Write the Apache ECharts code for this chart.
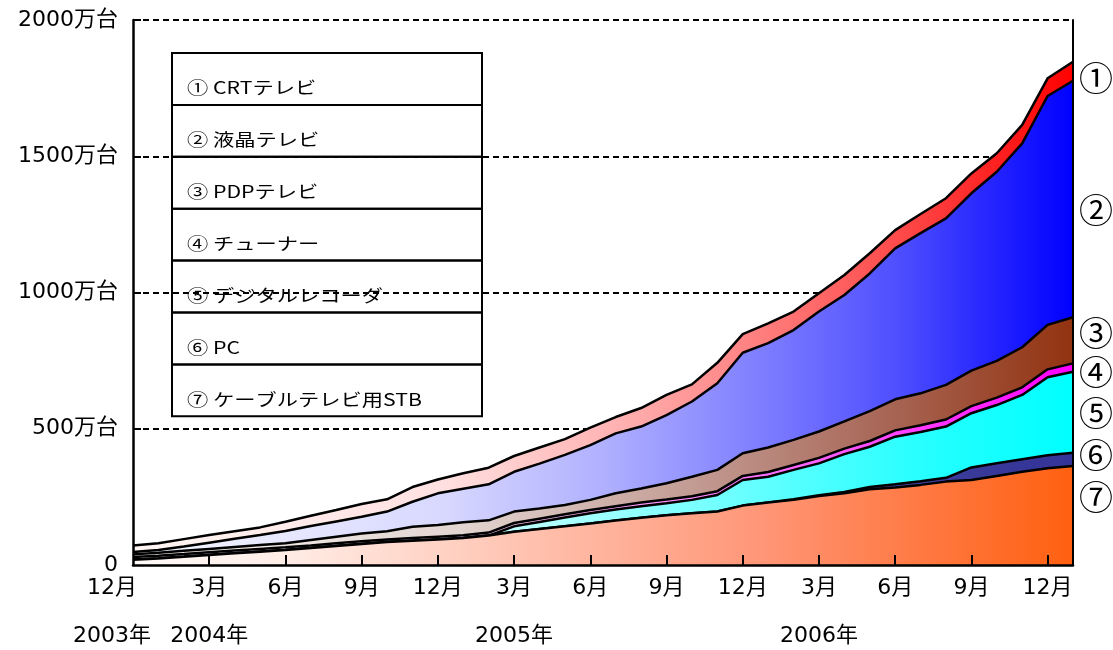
<!DOCTYPE html>
<html>
<head>
<meta charset="utf-8">
<script src="https://cdn.jsdelivr.net/npm/echarts@6/dist/echarts.min.js"></script>
<style>
  html, body { margin: 0; padding: 0; background: #fff; }
  #chart { width: 1113px; height: 650px; }
</style>
</head>
<body>
<div id="chart"></div>
<script>
// 月（2003年12月〜2007年1月）
const months = [
  '2003-12',
  '2004-01', '2004-02', '2004-03', '2004-04', '2004-05', '2004-06',
  '2004-07', '2004-08', '2004-09', '2004-10', '2004-11', '2004-12',
  '2005-01', '2005-02', '2005-03', '2005-04', '2005-05', '2005-06',
  '2005-07', '2005-08', '2005-09', '2005-10', '2005-11', '2005-12',
  '2006-01', '2006-02', '2006-03', '2006-04', '2006-05', '2006-06',
  '2006-07', '2006-08', '2006-09', '2006-10', '2006-11', '2006-12',
  '2007-01'
];

// 年ラベル（どの月の下に置くか）
const yearMonths = ['2003-12', '2004-03', '2005-03', '2006-03'];
const yearTexts = ['2003年', '2004年', '2005年', '2006年'];

// 各機器の累計出荷（万台）
const crt = [24, 25, 27, 28, 28, 28, 34, 38, 42, 47, 45, 54, 51, 57, 61, 58, 59, 58, 64, 60, 68, 74, 63, 75, 68, 73, 68, 67, 73, 74, 67, 70, 74, 73, 68, 68, 65, 70];
const lcd = [9, 10, 16, 23, 30, 37, 45, 51, 56, 61, 72, 92, 116, 123, 132, 146, 165, 184, 201, 220, 227, 250, 276, 318, 369, 383, 403, 440, 464, 505, 554, 588, 611, 651, 694, 748, 840, 868];
const pdp = [10, 11, 12, 12, 13, 14, 15, 20, 24, 29, 30, 41, 43, 48, 45, 42, 37, 34, 37, 47, 52, 60, 72, 78, 83, 90, 92, 97, 100, 110, 114, 117, 127, 130, 135, 147, 163, 169];
const tuner = [10, 10, 10, 10, 10, 10, 10, 10, 10, 10, 10, 10, 10, 10, 11, 12, 12, 12, 12, 12, 13, 13, 13, 14, 15, 17, 18, 20, 20, 21, 23, 25, 26, 26, 27, 28, 29, 31];
const recorder = [0, 0, 0, 0, 0, 0, 0, 0, 0, 0, 0, 0, 0, 0, 0, 20, 26, 32, 38, 41, 43, 44, 49, 61, 94, 95, 108, 117, 139, 148, 175, 181, 188, 199, 214, 236, 286, 297];
const pc = [0, 0, 0, 0, 0, 0, 0, 0, 0, 0, 0, 0, 0, 0, 0, 0, 0, 0, 0, 0, 0, 0, 0, 0, 0, 0, 2, 3, 5, 8, 12, 13, 14, 46, 46, 46, 48, 49];
const stb = [19, 24, 30, 37, 43, 49, 55, 62, 70, 77, 84, 89, 94, 99, 108, 122, 132, 142, 152, 163, 173, 183, 190, 196, 218, 229, 239, 253, 263, 278, 284, 294, 306, 312, 327, 342, 355, 363];

// 凡例の文字（上から）
const legendTexts = ['① CRTテレビ', '② 液晶テレビ', '③ PDPテレビ', '④ チューナー', '⑤ デジタルレコーダ', '⑥ PC', '⑦ ケーブルテレビ用STB'];
const markTexts = ['①', '②', '③', '④', '⑤', '⑥', '⑦'];

const chart = echarts.init(document.getElementById('chart'));

const numFont = '"DejaVu Sans", "Noto Sans CJK JP", sans-serif';
const jpFont = '"Noto Sans CJK JP", sans-serif';

function grad(stops) {
  return {
    type: 'linear', x: 0, y: 0, x2: 1, y2: 0,
    colorStops: stops.map(s => ({ offset: s[0], color: s[1] }))
  };
}

// 軸ラベル（最初のラベルだけ少し左に寄せる）
const labelRich = {
  t: { fontFamily: numFont, fontSize: 22, color: '#000' },
  f: { width: 42, fontSize: 22 }
};
function lab(s, first) {
  return '{t|' + s + '}' + (first ? '{f| }' : '');
}

// 年ラベル用の軸（最初の年だけ別の軸にして重なり判定を避ける）
function yearAxis(pick) {
  return {
    type: 'category',
    data: months,
    boundaryGap: false,
    position: 'bottom',
    offset: 48,
    axisLine: { show: false },
    axisTick: { show: false },
    splitLine: { show: false },
    axisLabel: {
      interval: (i) => pick(i) && yearMonths.indexOf(months[i]) >= 0,
      showMinLabel: true,
      hideOverlap: false,
      margin: 12,
      formatter: (v, i) => lab(yearTexts[yearMonths.indexOf(v)], i === 0),
      rich: labelRich
    }
  };
}

// 下から積み上げ
const layers = [
  { name: 'ケーブルテレビ用STB', data: stb,
    color: grad([[0, '#fffaf8'], [0.15, '#ffeee8'], [0.33, '#ffd2c4'], [0.5, '#ffb39c'], [0.68, '#ff9474'], [0.82, '#ff7c48'], [1, '#ff6010']]) },
  { name: 'PC', data: pc,
    color: grad([[0, '#e8e8f4'], [0.6, '#6a6aae'], [0.85, '#3c3c9a'], [1, '#333399']]) },
  { name: 'デジタルレコーダ', data: recorder,
    color: grad([[0, '#f0ffff'], [0.4, '#c0ffff'], [0.55, '#8cffff'], [0.7, '#56ffff'], [0.85, '#24ffff'], [1, '#00ffff']]) },
  { name: 'チューナー', data: tuner,
    color: grad([[0, '#fff4ff'], [0.4, '#ffc8ff'], [0.55, '#ff98ff'], [0.8, '#ff48ff'], [1, '#ff00ff']]) },
  { name: 'PDPテレビ', data: pdp,
    color: grad([[0, '#f8f4f2'], [0.35, '#e2d4d0'], [0.6, '#c29a92'], [0.8, '#a86656'], [1, '#923310']]) },
  { name: '液晶テレビ', data: lcd,
    color: grad([[0, '#f6f6ff'], [0.33, '#d8d8ff'], [0.5, '#b0b0ff'], [0.66, '#8080ff'], [0.81, '#5050ff'], [0.92, '#2222ff'], [1, '#0000ff']]) },
  { name: 'CRTテレビ', data: crt,
    color: grad([[0, '#fff6f4'], [0.33, '#ffe0e0'], [0.52, '#ffb0b0'], [0.65, '#ff8484'], [0.82, '#ff4848'], [1, '#ff0000']]) }
];

const series = layers.map((l, i) => ({
  name: l.name,
  type: 'line',
  stack: 'total',
  data: l.data,
  symbol: 'none',
  z: 10 - i,
  lineStyle: { color: '#000', width: 2.5 },
  areaStyle: { color: l.color, opacity: 1 },
  emphasis: { disabled: true }
}));

// 凡例の枠と文字
const box = { left: 172, top: 53, width: 310, rowH: 51.9 };
const graphic = [];
legendTexts.forEach((t, k) => {
  graphic.push({
    type: 'rect', silent: true, z: 50,
    shape: { x: box.left, y: box.top + k * box.rowH, width: box.width, height: box.rowH },
    style: { fill: 'none', stroke: '#000', lineWidth: 2 }
  });
  graphic.push({
    type: 'text', silent: true, z: 51,
    x: 187, y: box.top + k * box.rowH + 35,
    scaleX: 1.25, originX: 0,
    style: { text: t, font: '17px ' + jpFont, fill: '#000', textAlign: 'left', textVerticalAlign: 'middle' }
  });
});
// 右側の番号
const markY = [78, 210, 333, 372, 413, 455, 497];
markTexts.forEach((t, k) => {
  graphic.push({
    type: 'text', silent: true, z: 51,
    x: 1096, y: markY[k],
    style: { text: t, font: '34px ' + jpFont, fill: '#000', textAlign: 'center', textVerticalAlign: 'middle' }
  });
});

chart.setOption({
  animation: false,
  backgroundColor: '#fff',
  grid: { left: 133, right: 40, top: 20, bottom: 85, outerBoundsMode: 'none' },
  xAxis: [
    {
      type: 'category',
      data: months,
      boundaryGap: false,
      z: 20,
      axisLine: { lineStyle: { color: '#000', width: 2.5 } },
      axisTick: {
        inside: true, length: 10,
        interval: (i) => i > 0 && i % 3 === 0,
        lineStyle: { color: '#000', width: 2 }
      },
      axisLabel: {
        interval: (i) => i % 3 === 0,
        showMinLabel: true,
        hideOverlap: false,
        margin: 12,
        formatter: (v, i) => lab(parseInt(v.slice(5), 10) + '月', i === 0),
        rich: labelRich
      },
      splitLine: { show: false }
    },
    yearAxis((i) => i === 0),
    yearAxis((i) => i > 0)
  ],
  yAxis: [
    {
      type: 'value',
      min: 0, max: 2000, interval: 500,
      z: 0,
      axisLine: { show: false },
      axisTick: { show: true, inside: true, length: 8, lineStyle: { color: '#000', width: 2 } },
      axisLabel: {
        margin: 15,
        formatter: (v) => lab(v === 0 ? '0' : v + '万台', false),
        rich: labelRich
      },
      splitLine: { show: true, lineStyle: { color: '#000', width: 2, type: [6, 4] } }
    },
    {
      type: 'value', position: 'left',
      min: 0, max: 2000, interval: 500,
      z: 20,
      axisLine: { show: true, lineStyle: { color: '#000', width: 2.5 } },
      axisTick: { show: false }, axisLabel: { show: false }, splitLine: { show: false }
    },
    {
      type: 'value', position: 'right',
      min: 0, max: 2000, interval: 500,
      z: 20,
      axisLine: { show: true, lineStyle: { color: '#000', width: 2 } },
      axisTick: { show: false }, axisLabel: { show: false }, splitLine: { show: false }
    }
  ],
  series: series,
  graphic: graphic
});
</script>
</body>
</html>
